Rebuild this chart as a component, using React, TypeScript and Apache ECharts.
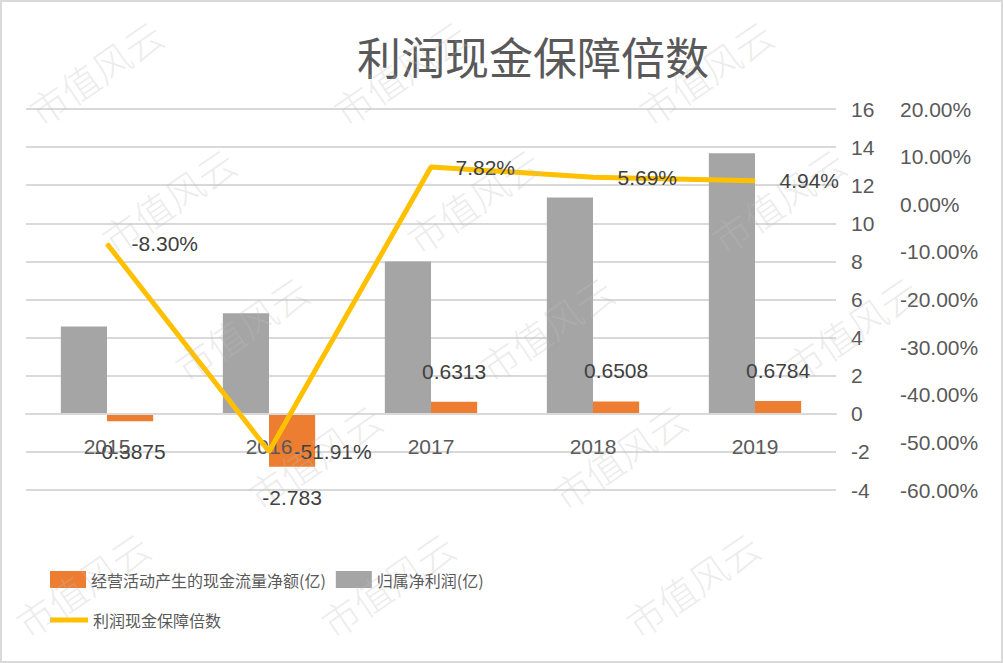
import React, { useEffect, useRef } from "react";
import * as echarts from "echarts";

const categories = ["2015", "2016", "2017", "2018", "2019"];
const cashFlow = [-0.3875, -2.783, 0.6313, 0.6508, 0.6784];
const netProfit = [4.58, 5.28, 8.0, 11.35, 13.68];
const ratio = [-0.083, -0.5191, 0.0782, 0.0569, 0.0494];
const leftTicks = { min: -4, max: 16, interval: 2 };
const rightTicks = { min: -0.6, max: 0.2, interval: 0.1 };

const NAME_CASH = "经营活动产生的现金流量净额(亿)";
const NAME_PROFIT = "归属净利润(亿)";
const NAME_RATIO = "利润现金保障倍数";
const TITLE = "利润现金保障倍数";
const WATERMARK = "市值风云";

const NUM_FONT = "'Liberation Sans', Arial, sans-serif";
const CJK_FONT = "'Noto Sans CJK SC', sans-serif";
const TEXT = "#595959";

const GRID_TOP = 109;
const GRID_BOTTOM_PX = 490;

export default function App() {
  const ref = useRef<HTMLDivElement>(null);
  useEffect(() => {
    if (!ref.current) return;
    const chart = echarts.init(ref.current, undefined, { renderer: "svg" });

    // distance (px) from grid bottom up to the zero line of the left axis
    const zeroOffset =
      ((0 - leftTicks.min) / (leftTicks.max - leftTicks.min)) * (GRID_BOTTOM_PX - GRID_TOP);

    const marks: any[] = [];
    for (let j = 0; j < 5; j++) {
      for (let i = -1; i < 4; i++) {
        const cx = 95 + 305 * i + 73 * j;
        const cy = 72 + 128 * j;
        if (cx < 80 || cx > 920) continue;
        marks.push({
          type: "text",
          x: cx,
          y: cy,
          rotation: 0.6,
          z: 100,
          silent: true,
          style: {
            text: WATERMARK,
            fontSize: 38,
            fontFamily: CJK_FONT,
            fontWeight: 300,
            fill: "rgba(190,190,190,0.28)",
            align: "center",
            verticalAlign: "middle",
          },
        });
      }
    }

    chart.setOption({
      animation: false,
      backgroundColor: "#ffffff",
      title: {
        text: TITLE,
        left: 352,
        top: 29,
        textStyle: {
          fontSize: 44,
          fontWeight: "normal",
          color: TEXT,
          fontFamily: CJK_FONT,
        },
      },
      grid: {
        left: 26,
        right: 167,
        top: GRID_TOP,
        bottom: 663 - GRID_BOTTOM_PX,
        containLabel: false,
      },
      legend: [
        {
          left: 45,
          top: 566,
          itemWidth: 36,
          itemHeight: 17,
          itemGap: 10,
          selectedMode: false,
          data: [
            { name: NAME_CASH, icon: "rect" },
            { name: NAME_PROFIT, icon: "rect" },
          ],
          textStyle: { fontSize: 16, color: TEXT, fontFamily: CJK_FONT },
        },
        {
          left: 45,
          top: 607,
          itemWidth: 38,
          itemHeight: 17,
          selectedMode: false,
          data: [{ name: NAME_RATIO, icon: "path://M0,0 h38 v5 h-38 z" }],
          textStyle: { fontSize: 16, color: TEXT, fontFamily: CJK_FONT },
        },
      ],
      xAxis: {
        type: "category",
        data: categories,
        offset: -zeroOffset,
        z: 4,
        axisTick: { show: false },
        axisLine: {
          show: true,
          onZero: false,
          lineStyle: { color: "#d9d9d9", width: 2 },
        },
        axisLabel: { margin: 22, fontSize: 21, color: TEXT, fontFamily: NUM_FONT },
      },
      yAxis: [
        {
          type: "value",
          position: "right",
          min: leftTicks.min,
          max: leftTicks.max,
          interval: leftTicks.interval,
          axisLine: { show: false },
          axisTick: { show: false },
          splitLine: { show: true, lineStyle: { color: "#d9d9d9", width: 2 } },
          axisLabel: { margin: 15, fontSize: 21, color: TEXT, fontFamily: NUM_FONT },
        },
        {
          type: "value",
          position: "right",
          offset: 49,
          min: rightTicks.min,
          max: rightTicks.max,
          interval: rightTicks.interval,
          axisLine: { show: false },
          axisTick: { show: false },
          splitLine: { show: false },
          axisLabel: {
            margin: 15,
            fontSize: 21,
            color: TEXT,
            fontFamily: NUM_FONT,
            formatter: (v: number) => (v * 100).toFixed(2) + "%",
          },
        },
      ],
      series: [
        {
          name: NAME_PROFIT,
          type: "bar",
          data: netProfit,
          barGap: "0%",
          barCategoryGap: "43%",
          itemStyle: { color: "#A5A5A5" },
        },
        {
          name: NAME_CASH,
          type: "bar",
          barGap: "0%",
          barCategoryGap: "43%",
          itemStyle: { color: "#ED7D31" },
          data: cashFlow.map((v) => ({
            value: v,
            label: { position: v < 0 ? "bottom" : "top" },
          })),
          label: {
            show: true,
            distance: 20,
            fontSize: 21,
            color: "#404040",
            fontFamily: NUM_FONT,
            formatter: (p: any) => String(p.value),
          },
        },
        {
          name: NAME_RATIO,
          type: "line",
          yAxisIndex: 1,
          data: ratio,
          symbol: "circle",
          symbolSize: 1,
          z: 5,
          lineStyle: { color: "#FFC000", width: 5 },
          itemStyle: { color: "#FFC000" },
          label: {
            show: true,
            position: "right",
            distance: 24,
            fontSize: 21,
            color: "#404040",
            fontFamily: NUM_FONT,
            formatter: (p: any) => (p.value * 100).toFixed(2) + "%",
          },
        },
      ],
      graphic: [
        {
          type: "rect",
          shape: { x: 1, y: 1, width: 1001, height: 661 },
          style: { fill: "none", stroke: "#d9d9d9", lineWidth: 2 },
          silent: true,
          z: 101,
        },
        ...marks,
      ],
    });
    return () => chart.dispose();
  }, []);
  return (
    <div
      ref={ref}
      style={{ position: "fixed", left: 0, top: 0, width: 1003, height: 663 }}
    />
  );
}
